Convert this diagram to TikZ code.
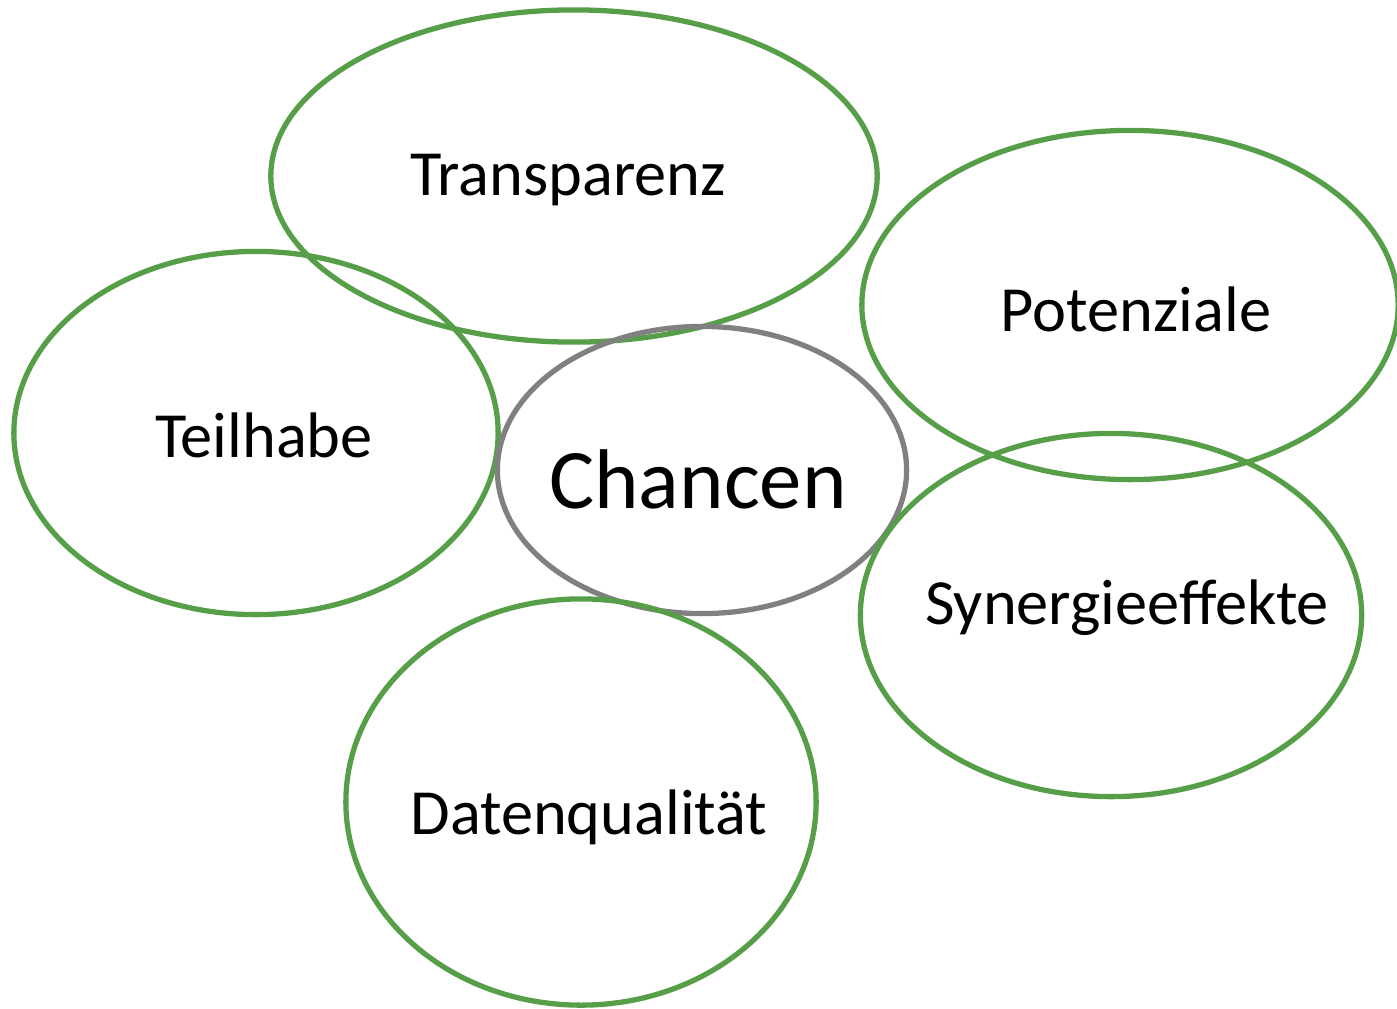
\documentclass[tikz,border=0pt]{standalone}
\usepackage{fontspec}
\setmainfont{Carlito}
\usetikzlibrary{shapes.geometric}
\definecolor{ogreen}{RGB}{86,158,72}
\definecolor{ogray}{RGB}{128,128,128}
\tikzset{
  px/.style={x=0.01cm,y=-0.01cm},
  ell/.style={ellipse,draw=ogreen,line width=1.5pt,inner sep=0pt,outer sep=0pt},
  cell/.style={ellipse,draw=ogray,line width=1.5pt,inner sep=0pt,outer sep=0pt},
  lbl/.style={anchor=base,inner sep=0pt,font=\fontsize{18.3}{22}\selectfont},
  biglbl/.style={anchor=base,inner sep=0pt,font=\fontsize{24.1}{29}\selectfont},
}
\begin{document}
\begin{tikzpicture}[px]
\useasboundingbox (0,0) rectangle (1397,1008);
\node[ell,minimum width=6.06cm,minimum height=3.32cm] (trans) at (574,176) {};
\node[ell,minimum width=4.84cm,minimum height=3.63cm] (teil) at (256,433) {};
\node[cell,minimum width=4.09cm,minimum height=2.87cm] (chan) at (702,470) {};
\node[ell,minimum width=5.36cm,minimum height=3.49cm] (pot) at (1130,305) {};
\node[ell,minimum width=5.01cm,minimum height=3.63cm] (syn) at (1111,615) {};
\node[ell,minimum width=4.70cm,minimum height=4.06cm] (dat) at (581,802) {};
\node[lbl] (ttrans) at (568,195) {Transparenz};
\node[lbl] (tteil) at (264,457) {Teilhabe};
\node[biglbl] (tchan) at (698,508) {Chancen};
\node[lbl] (tpot) at (1136,331) {Potenziale};
\node[lbl] (tsyn) at (1127,624) {Synergieeffekte};
\node[lbl] (tdat) at (589,834) {Datenqualität};
\end{tikzpicture}
\end{document}
